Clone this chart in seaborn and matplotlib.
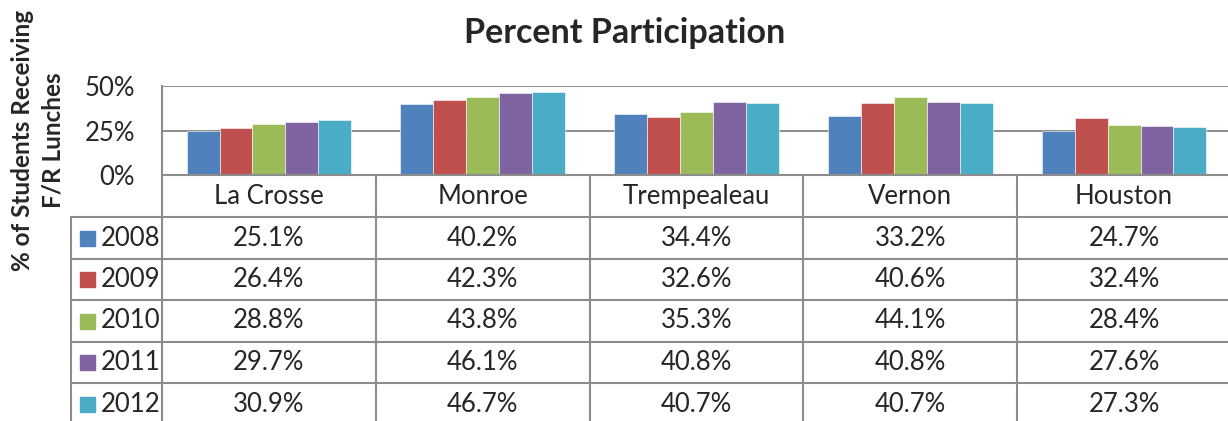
import pandas as pd
import matplotlib.pyplot as plt
import matplotlib.transforms as mtransforms
from matplotlib.lines import Line2D
from matplotlib.patches import Rectangle
import seaborn as sns

counties = ["La Crosse", "Monroe", "Trempealeau", "Vernon", "Houston"]
years = ["2008", "2009", "2010", "2011", "2012"]
pct_2008 = [25.1, 40.2, 34.4, 33.2, 24.7]
pct_2009 = [26.4, 42.3, 32.6, 40.6, 32.4]
pct_2010 = [28.8, 43.8, 35.3, 44.1, 28.4]
pct_2011 = [29.7, 46.1, 40.8, 40.8, 27.6]
pct_2012 = [30.9, 46.7, 40.7, 40.7, 27.3]
year_colors = ["#4F81BD", "#C0504D", "#9BBB59", "#8064A2", "#4BACC6"]
yticks = [0, 25, 50]

series = [pct_2008, pct_2009, pct_2010, pct_2011, pct_2012]
df = pd.DataFrame([
    {"County": c, "Year": y, "Pct": v}
    for y, vals in zip(years, series)
    for c, v in zip(counties, vals)
])

sns.set_style("white")
plt.rcParams["font.family"] = ["Lato", "DejaVu Sans"]

W, H = 1228, 421
fig = plt.figure(figsize=(W / 100, H / 100), dpi=100)


def fx(px):
    return px / W


def fy(py):
    return 1 - py / H


# plot area in pixel terms
x0, x1 = 162, 1231
y_top, y_zero = 86, 175.5
ax = fig.add_axes([fx(x0), fy(y_zero), fx(x1 - x0), (y_zero - y_top) / H])

sns.barplot(data=df, x="County", y="Pct", hue="Year", order=counties,
            hue_order=years, palette=year_colors, width=0.77, saturation=1,
            edgecolor="white", linewidth=0.4, legend=False, ax=ax)

grid_c = "#8C8C8C"
ax.set_ylim(0, 50)
ax.set_xlim(-0.5, len(counties) - 0.5)
ax.set_yticks(yticks)
ax.set_yticklabels([f"{t}%" for t in yticks], fontsize=18.5)
ax.tick_params(axis="y", length=0, pad=19.5)
ax.set_xticks([])
ax.set_xlabel("")
ax.set_ylabel("")
ax.grid(axis="y", color=grid_c, linewidth=1.4)
ax.set_axisbelow(True)
for s in ["top", "right"]:
    ax.spines[s].set_visible(False)
for s in ["left", "bottom"]:
    ax.spines[s].set_color(grid_c)
    ax.spines[s].set_linewidth(1.5)

# data table below the chart
trans = mtransforms.blended_transform_factory(ax.transData, fig.transFigure)
row_edges = [175.5, 217, 259, 300, 342, 383, 425]
lw = 1.5
for k in range(len(counties) + 1):
    fig.add_artist(Line2D([k - 0.5, k - 0.5], [fy(row_edges[0]), fy(H + 5)],
                          transform=trans, color=grid_c, lw=lw))
fig.add_artist(Line2D([fx(71), fx(71)], [fy(row_edges[1]), fy(H + 5)],
                      transform=fig.transFigure, color=grid_c, lw=lw))
for ye in row_edges[1:-1]:
    fig.add_artist(Line2D([fx(71), fx(x1)], [fy(ye), fy(ye)],
                          transform=fig.transFigure, color=grid_c, lw=lw))

fs = 18.5
hdr_y = fy((row_edges[0] + row_edges[1]) / 2)
for i, c in enumerate(counties):
    fig.text(i, hdr_y, c, transform=trans, ha="center", va="center", fontsize=fs)

for r, (y, vals, col) in enumerate(zip(years, series, year_colors)):
    cy = (row_edges[r + 1] + row_edges[r + 2]) / 2
    fig.add_artist(Rectangle((fx(80), fy(cy + 7.5)), fx(15), 15 / H,
                             transform=fig.transFigure, color=col))
    fig.text(fx(101), fy(cy), y, ha="left", va="center", fontsize=fs)
    for i, v in enumerate(vals):
        fig.text(i, fy(cy), f"{v:.1f}%", transform=trans,
                 ha="center", va="center", fontsize=fs)

fig.text(fx(625), fy(33), "Percent Participation", ha="center", va="center",
         fontsize=24.5, fontweight="bold")
fig.text(fx(38), fy(140), "% of Students Receiving\nF/R Lunches", rotation=90,
         ha="center", va="center", multialignment="center", fontsize=17.5,
         fontweight="bold", linespacing=1.4)

fig.savefig("out.png", dpi=100)
